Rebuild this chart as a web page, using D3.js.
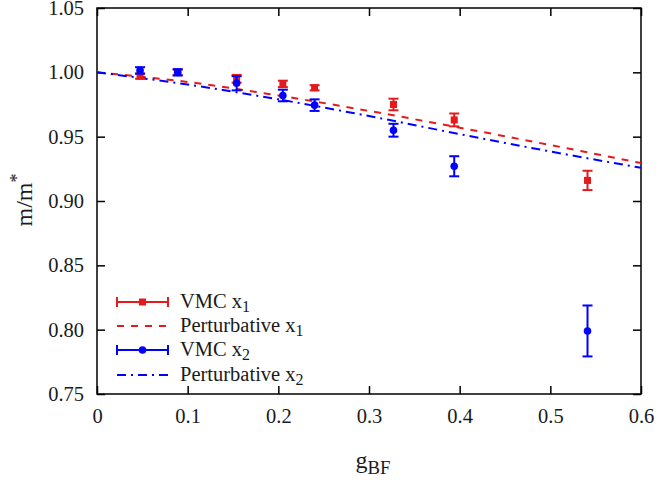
<!DOCTYPE html>
<html><head><meta charset="utf-8">
<script src="https://cdn.jsdelivr.net/npm/d3@7"></script>
<style>body{margin:0;background:#fff}svg{display:block}svg text{font-family:'Liberation Serif','Times New Roman',Times,serif !important}</style>
</head><body><svg id="c" width="659" height="485"></svg>
<script>
// ---- data ----
const gVMC = [0.0475, 0.089, 0.154, 0.205, 0.240, 0.327, 0.394, 0.541];
const vmcX1 = [0.997, 1.000, 0.995, 0.991, 0.988, 0.975, 0.963, 0.916];
const vmcX1Err = [0.002, 0.002, 0.003, 0.0025, 0.002, 0.0045, 0.005, 0.0075];
const vmcX2 = [1.0015, 1.000, 0.9915, 0.982, 0.9745, 0.955, 0.927, 0.799];
const vmcX2Err = [0.0025, 0.0025, 0.0055, 0.0045, 0.0045, 0.005, 0.0078, 0.0198];
const gPert = [0, 0.1, 0.2, 0.3, 0.4, 0.5, 0.6];
const pertX1 = [1.000, 0.9925, 0.9820, 0.9700, 0.9570, 0.9435, 0.9295];
const pertX2 = [1.000, 0.9905, 0.9790, 0.9660, 0.9520, 0.9385, 0.9258];
const xTicks = [0, 0.1, 0.2, 0.3, 0.4, 0.5, 0.6];
const yTicks = [0.75, 0.80, 0.85, 0.90, 0.95, 1.00, 1.05];
const legendLabels = [["VMC x", "1"], ["Perturbative x", "1"], ["VMC x", "2"], ["Perturbative x", "2"]];

const RED = "#e41a1c", BLUE = "#0000ff", TXT = "#1a1a1a";
const L = 97, R = 641, T = 8, B = 394;
const svg = d3.select("#c");
const x = d3.scaleLinear().domain([0, 0.6]).range([L, R]);
const y = d3.scaleLinear().domain([0.75, 1.05]).range([B, T]);
const FS = 20.5, LFS = 24;

// axes (ticks inward)
const tl = 8;
const ax = svg.append("g");
ax.append("g").attr("transform", `translate(0,${B})`)
  .call(d3.axisBottom(x).tickValues(xTicks).tickSizeInner(-tl).tickSizeOuter(0).tickPadding(14).tickFormat(d => d === 0 ? "0" : d3.format(".1f")(d)));
ax.append("g").attr("transform", `translate(0,${T})`)
  .call(d3.axisTop(x).tickValues(xTicks).tickSizeInner(-tl).tickSizeOuter(0).tickFormat(""));
ax.append("g").attr("transform", `translate(${L},0)`)
  .call(d3.axisLeft(y).tickValues(yTicks).tickSizeInner(-tl).tickSizeOuter(0).tickPadding(13).tickFormat(d3.format(".2f")));
ax.append("g").attr("transform", `translate(${R},0)`)
  .call(d3.axisRight(y).tickValues(yTicks).tickSizeInner(-tl).tickSizeOuter(0).tickFormat(""));
ax.selectAll("g").attr("font-family", null).attr("font-size", null);
ax.selectAll(".domain").remove();
ax.selectAll(".tick line").attr("stroke", "#000").attr("stroke-width", 1.5);
ax.selectAll(".tick text").attr("font-size", FS).attr("fill", TXT);
svg.append("rect").attr("x", L).attr("y", T).attr("width", R - L).attr("height", B - T)
  .attr("fill", "none").attr("stroke", "#000").attr("stroke-width", 1.5);

// lines
const line = d3.line().x(d => x(d[0])).y(d => y(d[1])).curve(d3.curveMonotoneX);
svg.append("path").datum(gPert.map((g, i) => [g, pertX1[i]])).attr("d", line)
  .attr("fill", "none").attr("stroke", RED).attr("stroke-width", 2).attr("stroke-dasharray", "7,7");
svg.append("path").datum(gPert.map((g, i) => [g, pertX2[i]])).attr("d", line)
  .attr("fill", "none").attr("stroke", BLUE).attr("stroke-width", 2).attr("stroke-dasharray", "9,5,2,5");

// error bars + markers
function errSeries(vals, errs, color, shape) {
  const g = svg.append("g");
  gVMC.forEach((gv, i) => {
    const cx = x(gv), cy = y(vals[i]), y0 = y(vals[i] - errs[i]), y1 = y(vals[i] + errs[i]);
    g.append("line").attr("x1", cx).attr("x2", cx).attr("y1", y0).attr("y2", y1).attr("stroke", color).attr("stroke-width", 2);
    g.append("line").attr("x1", cx - 5).attr("x2", cx + 5).attr("y1", y0).attr("y2", y0).attr("stroke", color).attr("stroke-width", 2);
    g.append("line").attr("x1", cx - 5).attr("x2", cx + 5).attr("y1", y1).attr("y2", y1).attr("stroke", color).attr("stroke-width", 2);
    if (shape === "square") g.append("rect").attr("x", cx - 3.5).attr("y", cy - 3.5).attr("width", 7).attr("height", 7).attr("fill", color);
    else g.append("circle").attr("cx", cx).attr("cy", cy).attr("r", 3.8).attr("fill", color);
  });
}
errSeries(vmcX1, vmcX1Err, RED, "square");
errSeries(vmcX2, vmcX2Err, BLUE, "circle");

// legend
const lg = svg.append("g");
const rows = [302, 326, 350, 375];
const lx0 = 117, lx1 = 168;
legendLabels.forEach((lab, i) => {
  const ry = rows[i];
  const color = i < 2 ? RED : BLUE;
  if (i === 0 || i === 2) {
    lg.append("line").attr("x1", lx0).attr("x2", lx1).attr("y1", ry).attr("y2", ry).attr("stroke", color).attr("stroke-width", 2);
    [lx0, lx1].forEach(xx => lg.append("line").attr("x1", xx).attr("x2", xx).attr("y1", ry - 5).attr("y2", ry + 5).attr("stroke", color).attr("stroke-width", 2));
    const mx = (lx0 + lx1) / 2;
    if (i === 0) lg.append("rect").attr("x", mx - 3.5).attr("y", ry - 3.5).attr("width", 7).attr("height", 7).attr("fill", color);
    else lg.append("circle").attr("cx", mx).attr("cy", ry).attr("r", 3.8).attr("fill", color);
  } else {
    lg.append("line").attr("x1", lx0).attr("x2", lx1).attr("y1", ry).attr("y2", ry).attr("stroke", color).attr("stroke-width", 2)
      .attr("stroke-dasharray", i === 1 ? "7,7" : "9,5,2,5");
  }
  const t = lg.append("text").attr("x", 180).attr("y", ry + 6).attr("font-size", FS).attr("fill", TXT);
  t.append("tspan").text(lab[0]);
  t.append("tspan").attr("dy", 4).attr("font-size", FS * 0.78).text(lab[1]);
});

// axis labels
const yl = svg.append("text").attr("transform", "translate(32,200) rotate(-90)").attr("text-anchor", "middle").attr("font-size", LFS).attr("fill", TXT);
yl.append("tspan").text("m/m");
yl.append("tspan").attr("dy", -9).attr("font-size", LFS * 0.75).text("*");
const xl = svg.append("text").attr("x", 373).attr("y", 468).attr("text-anchor", "middle").attr("font-size", LFS).attr("fill", TXT);
xl.append("tspan").text("g");
xl.append("tspan").attr("dy", 6).attr("font-size", LFS * 0.78).text("BF");
</script></body></html>
